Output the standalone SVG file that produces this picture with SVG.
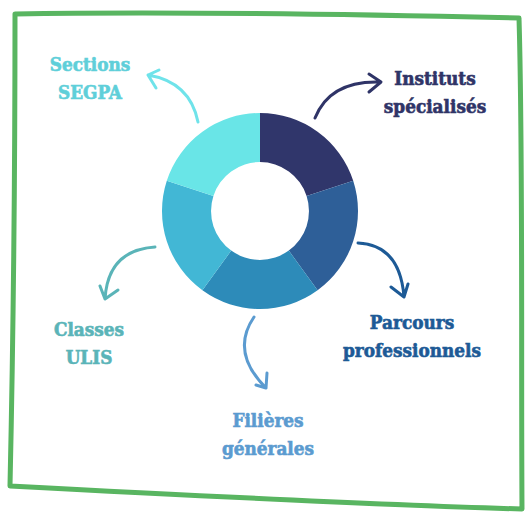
<svg xmlns="http://www.w3.org/2000/svg" width="531" height="513" viewBox="0 0 531 513">
<style>
.lbl{font-family:"DejaVu Serif Condensed","DejaVu Serif",serif;font-weight:bold;font-size:18.8px;text-anchor:middle;stroke-width:0.6;paint-order:stroke}
.arr{fill:none;stroke-width:3;stroke-linecap:round;stroke-linejoin:round}
.frame{fill:none;stroke:#59b561;stroke-width:5;stroke-linecap:round;stroke-linejoin:round}
</style>
<rect width="531" height="513" fill="#ffffff"/>
<path class="frame" d="M15,14 C120,12 300,13 519,18 M519,18 C523,150 521,350 522,509 M522,509 C380,505 200,496 10,486 M10,486 C13,350 15,150 15,14"/>
<g id="donut">
<path d="M260,113 A98,98 0 0 1 353.2,180.7 L306.6,195.9 A49,49 0 0 0 260,162 Z" fill="#30366b"/>
<path d="M353.2,180.7 A98,98 0 0 1 317.6,290.3 L288.8,250.6 A49,49 0 0 0 306.6,195.9 Z" fill="#2e5f98"/>
<path d="M317.6,290.3 A98,98 0 0 1 202.4,290.3 L231.2,250.6 A49,49 0 0 0 288.8,250.6 Z" fill="#2d8bb9"/>
<path d="M202.4,290.3 A98,98 0 0 1 166.8,180.7 L213.4,195.9 A49,49 0 0 0 231.2,250.6 Z" fill="#42b7d5"/>
<path d="M166.8,180.7 A98,98 0 0 1 260,113 L260,162 A49,49 0 0 0 213.4,195.9 Z" fill="#69e5e7"/>
</g>
<g id="connectors">
<path class="arr" stroke="#6fe3ea" d="M198,122 Q190,82 148,75 M159,70 L148,75 L156,88"/>
<path class="arr" stroke="#2f3467" d="M315,118 Q330,80 381,82 M369,74 L381,82 L369,92"/>
<path class="arr" stroke="#1d5a96" d="M358,243 Q400,245 404,297 M391,287 L404,297 L408,284"/>
<path class="arr" stroke="#5b9bd0" d="M254,317 Q230,352 266,388 M256,385 L266,388 L267,373"/>
<path class="arr" stroke="#5ab4b8" d="M155,247 Q108,250 105,299 M100,286 L105,299 L118,290"/>
</g>
<g id="n-segpa"><text class="lbl" fill="#5fcfd9" stroke="#5fcfd9"><tspan x="90" y="71">Sections</tspan><tspan x="90" y="99">SEGPA</tspan></text></g>
<g id="n-instituts"><text class="lbl" fill="#2f3467" stroke="#2f3467"><tspan x="435" y="85">Instituts</tspan><tspan x="435" y="113">spécialisés</tspan></text></g>
<g id="n-parcours"><text class="lbl" fill="#1d5a96" stroke="#1d5a96"><tspan x="412" y="329">Parcours</tspan><tspan x="412" y="357">professionnels</tspan></text></g>
<g id="n-filieres"><text class="lbl" fill="#5b9bd0" stroke="#5b9bd0"><tspan x="268" y="427">Filières</tspan><tspan x="268" y="455">générales</tspan></text></g>
<g id="n-ulis"><text class="lbl" fill="#5ab4b8" stroke="#5ab4b8"><tspan x="89" y="336">Classes</tspan><tspan x="89" y="364">ULIS</tspan></text></g>
</svg>
